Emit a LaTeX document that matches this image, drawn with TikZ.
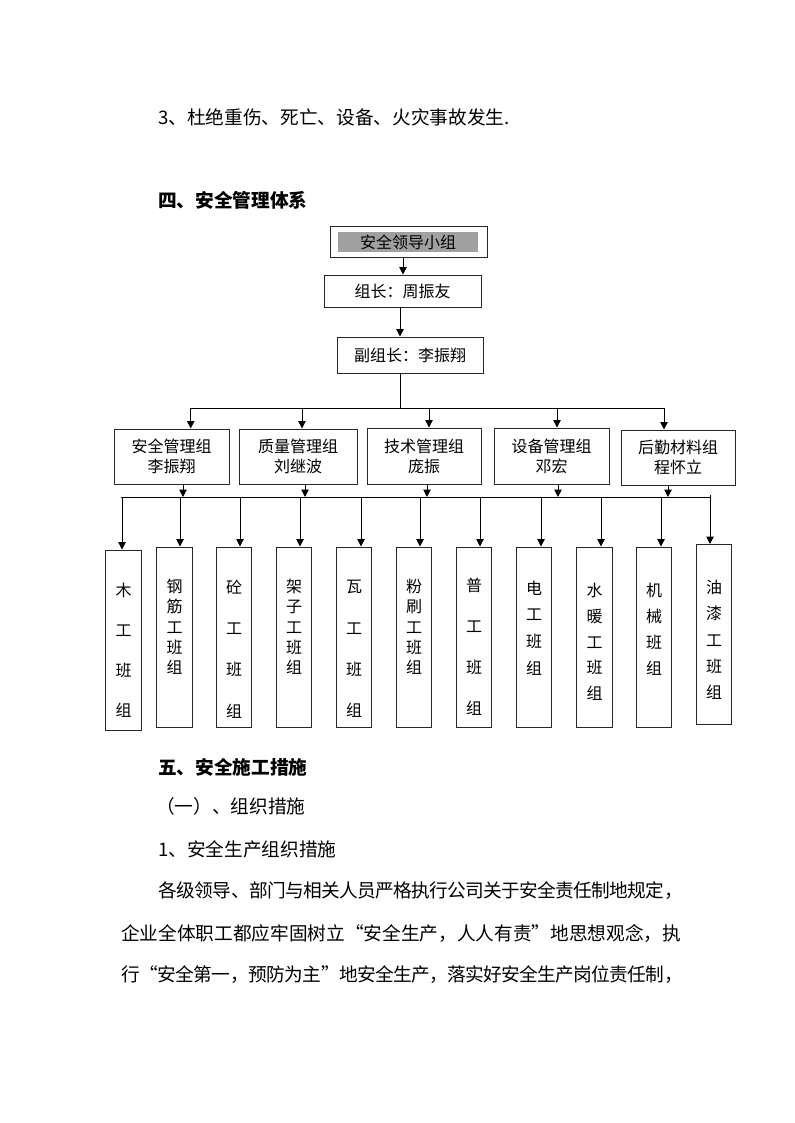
\documentclass[tikz,border=0pt]{standalone}
\usepackage{fontspec}
\setmainfont{Noto Sans CJK SC}
\usetikzlibrary{arrows.meta}
\XeTeXlinebreaklocale "zh"
\XeTeXlinebreakskip=0pt plus 1pt minus 1pt
\definecolor{leadgray}{RGB}{160,160,160}
\definecolor{edge}{RGB}{40,40,40}
\begin{document}
\begin{tikzpicture}[
  x=0.75pt, y=-0.75pt,
  box/.style={draw=edge, line width=0.75pt, inner sep=0pt},
  arr/.style={line width=0.75pt, -{Triangle[width=5.5pt,length=5.5pt]}},
  ln/.style={line width=0.75pt},
  bodyline/.style={anchor=west, inner sep=0pt, font=\fontsize{14pt}{14pt}\selectfont},
  headline/.style={anchor=west, inner sep=0pt, font=\fontsize{14pt}{14pt}\selectfont\bfseries},
  parline/.style={anchor=west, inner sep=0pt, text width=#1*0.75pt, align=justify, font=\fontsize{14pt}{14pt}\selectfont},
  midtxt/.style={align=center, font=\fontsize{12pt}{15pt}\selectfont},
  chtxt/.style={font=\fontsize{12pt}{12pt}\selectfont},
]
\fill[white] (0,0) rectangle (794,1123);
\useasboundingbox (0,0) rectangle (794,1123);

% body text above chart
\node[bodyline] (l3) at (158,117) {3、杜绝重伤、死亡、设备、火灾事故发生.};
\node[headline] (h4) at (158,200) {四、安全管理体系};

% top chain
\node[box, minimum width=157*0.75pt, minimum height=30*0.75pt] (lead) at (408.5,242) {};
\node[fill=leadgray, inner sep=0pt, minimum width=140*0.75pt, minimum height=20*0.75pt, chtxt] (leadin) at (408,242) {安全领导小组};
\node[box, chtxt, minimum width=157*0.75pt, minimum height=32*0.75pt] (chief) at (402.5,291) {组长：周振友};
\node[box, chtxt, minimum width=146*0.75pt, minimum height=36*0.75pt] (deputy) at (410,355) {副组长：李振翔};

\coordinate (ca) at (403,0);
\coordinate (cb) at (400,0);
\draw[arr] (ca |- lead.south) -- (ca |- chief.north);
\draw[arr] (cb |- chief.south) -- (cb |- deputy.north);

% upper bus
\coordinate (busTL) at (190.7,408);
\coordinate (busTR) at (664,408);
\draw[ln] (cb |- deputy.south) -- (cb |- busTL);
\draw[ln] (busTL) -- (busTR);

% group boxes
\node[box, midtxt, minimum width=115*0.75pt, minimum height=55*0.75pt] (g1) at (171.5,456.5) {安全管理组\\李振翔};
\node[box, midtxt, minimum width=118*0.75pt, minimum height=55*0.75pt] (g2) at (298,456.5) {质量管理组\\刘继波};
\node[box, midtxt, minimum width=114*0.75pt, minimum height=56*0.75pt] (g3) at (424,456) {技术管理组\\庞振};
\node[box, midtxt, minimum width=115*0.75pt, minimum height=56*0.75pt] (g4) at (551.5,456) {设备管理组\\邓宏};
\node[box, midtxt, minimum width=114*0.75pt, minimum height=55*0.75pt] (g5) at (678,457.5) {后勤材料组\\程怀立};

% lower bus
\coordinate (busBL) at (121,497);
\coordinate (busBR) at (710,497);
\draw[ln] (busBL) -- (busBR);

\foreach \g/\ta/\tb in {g1/190.7/183, g2/302/305, g3/429/427, g4/557/558, g5/664/668}{
  \draw[arr] (\ta,408) -- (\ta,0 |- \g.north);
  \draw[arr] (\tb,0 |- \g.south) -- (\tb,497);
}

% team boxes
\foreach \n/\cx/\cy/\ax/\ty/\ls/\txt in {
 1/123.5/640/122/650/30/{木\\工\\班\\组},
 2/174.5/637/180/627/15.2/{钢\\筋\\工\\班\\组},
 3/234/637/240/649/31/{砼\\工\\班\\组},
 4/294/637/300/627/15.2/{架\\子\\工\\班\\组},
 5/354/637/361/649/31/{瓦\\工\\班\\组},
 6/414/637/420/627/15.2/{粉\\刷\\工\\班\\组},
 7/474/637/480/647/30.75/{普\\工\\班\\组},
 8/534/637/541/628/20/{电\\工\\班\\组},
 9/594.5/637/601/642/19.3/{水\\暖\\工\\班\\组},
 10/654/637/661/629/19.5/{机\\械\\班\\组},
 11/714/634.5/710/640/19.7/{油\\漆\\工\\班\\组}}
{
  \node[box, minimum width=35.5*0.75pt, minimum height=180*0.75pt] (t\n) at (\cx,\cy) {};
  \node[align=center, inner sep=0pt, font=\fontsize{12pt}{\ls pt}\selectfont] (tt\n) at (\cx,\ty) {\txt};
  \draw[arr] (\ax,497) -- (\ax,0 |- t\n.north);
}
\draw[ln] (710,495) -- (busBR);

% body text below chart
\node[headline] (h5) at (158,767) {五、安全施工措施};
\node[bodyline] (s1) at (156,806) {（一）、组织措施};
\node[bodyline] (s2) at (158,849) {1、安全生产组织措施};
\node[parline=525] (p1) at (158,891) {\parfillskip=0pt 各级领导、部门与相关人员严格执行公司关于安全责任制地规定，};
\node[parline=562] (p2) at (121,933) {\parfillskip=0pt 企业全体职工都应牢固树立“安全生产，人人有责”地思想观念，执};
\node[parline=562] (p3) at (121,975) {\parfillskip=0pt 行“安全第一，预防为主”地安全生产，落实好安全生产岗位责任制，};
\end{tikzpicture}
\end{document}
